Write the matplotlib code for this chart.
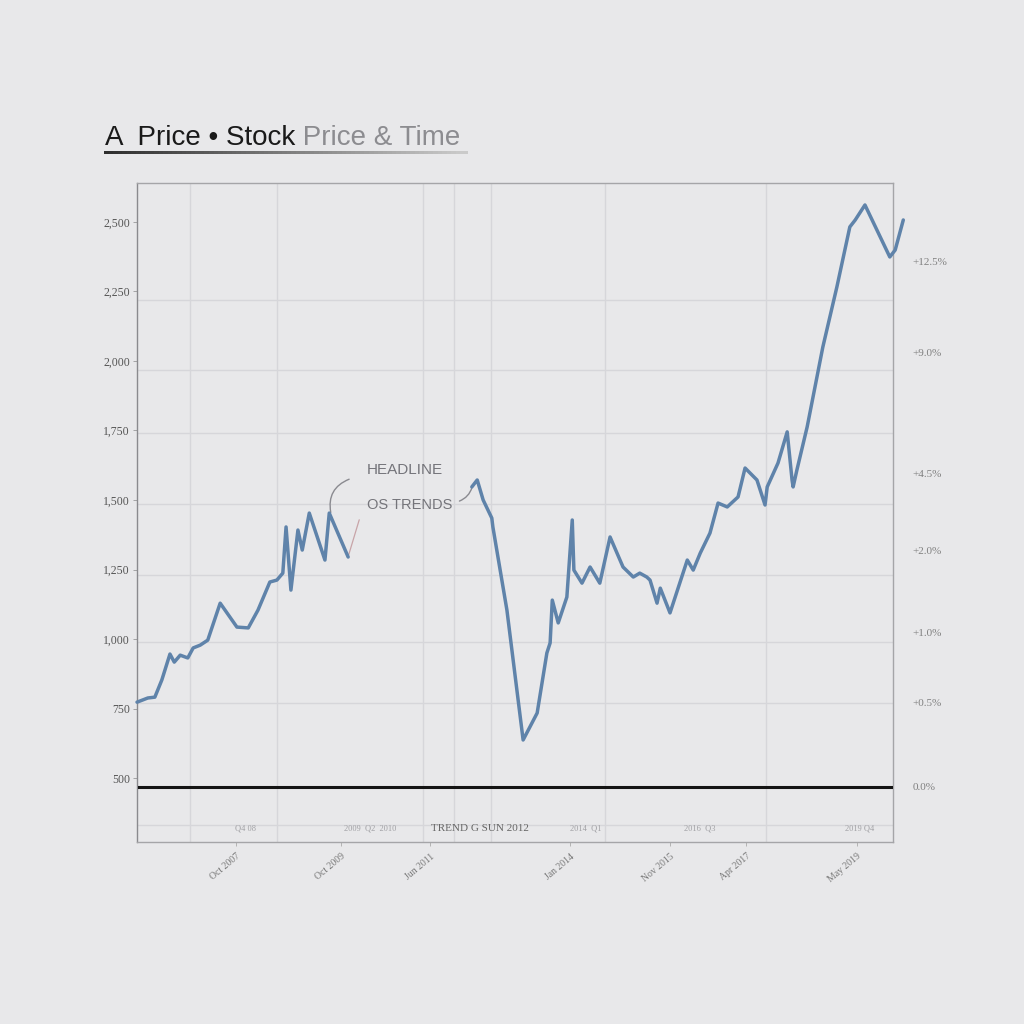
import numpy as np
import matplotlib
matplotlib.use("Agg")
import matplotlib.pyplot as plt
from matplotlib.collections import LineCollection

# ---------------- data ----------------
years = [2006.00, 2006.20, 2006.33, 2006.46, 2006.61, 2006.69, 2006.80, 2006.94,
         2007.04, 2007.17, 2007.31, 2007.54, 2007.85, 2008.06, 2008.24, 2008.46,
         2008.59, 2008.70, 2008.76, 2008.85, 2008.98, 2009.06, 2009.19, 2009.48,
         2009.56, 2009.91,
         2011.00,
         2012.20, 2012.30, 2012.41, 2012.57, 2012.59, 2012.85, 2013.15, 2013.41,
         2013.59, 2013.65, 2013.69, 2013.80, 2013.96, 2014.06, 2014.09, 2014.24,
         2014.39, 2014.57, 2014.76, 2015.00, 2015.19, 2015.31, 2015.44, 2015.50,
         2015.63, 2015.69, 2015.87, 2016.19, 2016.30, 2016.43, 2016.61, 2016.76,
         2016.93, 2017.13, 2017.26, 2017.48, 2017.63, 2017.67, 2017.87, 2018.04,
         2018.13, 2018.15, 2018.22, 2018.41, 2018.70, 2018.96, 2019.20, 2019.30,
         2019.48, 2019.94, 2020.04, 2020.19]
prices = [773, 788, 791, 853, 946, 917, 942, 932,
          968, 978, 996, 1129, 1043, 1040, 1104, 1205,
          1212, 1237, 1403, 1176, 1392, 1320, 1453, 1284,
          1453, 1295,
          np.nan,
          1547, 1572, 1500, 1435, 1403, 1104, 637, 734,
          950, 986, 1140, 1058, 1151, 1428, 1248, 1201,
          1259, 1201, 1367, 1259, 1223, 1237, 1223, 1212,
          1129, 1183, 1094, 1284, 1248, 1309, 1381, 1489,
          1475, 1511, 1615, 1572, 1482, 1547, 1633, 1745,
          1572, 1547, 1608, 1763, 2050, 2266, 2482, 2507,
          2561, 2374, 2399, 2507]

left_ticks = [500, 750, 1000, 1250, 1500, 1750, 2000, 2250, 2500]
left_labels = ["500", "750", "1,000", "1,250", "1,500", "1,750", "2,000", "2,250", "2,500"]
right_ticks = [2356, 2032, 1597, 1317, 1025, 770, 468]
right_labels = ["+12.5%", "+9.0%", "+4.5%", "+2.0%", "+1.0%", "+0.5%", "0.0%"]
x_ticks = [2007.83, 2009.78, 2011.43, 2014.02, 2015.87, 2017.28, 2019.33]
x_labels = ["Oct 2007", "Oct 2009", "Jun 2011", "Jan 2014", "Nov 2015", "Apr 2017", "May 2019"]
baseline_value = 468
band_labels = ["Q4 08", "2009  Q2  2010", "TREND G SUN 2012", "2014  Q1", "2016  Q3", "2019 Q4"]

# ---------------- styling ----------------
BG = "#e8e8ea"
LINE = "#5f83aa"

fig = plt.figure(figsize=(10.24, 10.24), dpi=100, facecolor=BG)
ax = fig.add_axes([0.1338, 0.1777, 0.7383, 0.6436], facecolor=BG)

ax.set_xlim(2006, 2020)
ax.set_ylim(270, 2640)

# grid lines (minor ticks carry the grid)
ax.set_xticks([2006.98, 2008.59, 2011.30, 2011.87, 2012.56, 2014.67, 2017.65], minor=True)
ax.set_yticks([331, 770, 989, 1230, 1486, 1741, 1968, 2219], minor=True)
ax.grid(True, which="minor", color="#d6d6da", lw=1.0)
ax.grid(False, which="major")
ax.tick_params(which="minor", length=0)

ax.plot(years, prices, color=LINE, lw=2.5, solid_joinstyle="round",
        solid_capstyle="round", clip_on=False, zorder=4)
ax.axhline(baseline_value, color="#141414", lw=2.2, xmin=0.002, xmax=0.997, zorder=3)

for s in ax.spines.values():
    s.set_color("#a5a5a8")
    s.set_linewidth(1.0)
ax.spines["left"].set_color("#8a8a8e")

ax.set_yticks(left_ticks)
ax.set_yticklabels(left_labels, family="Liberation Serif", fontsize=8.5, color="#555555")
ax.tick_params(axis="y", which="major", length=3, width=0.6, color="#999999", pad=2)

ax.set_xticks(x_ticks)
ax.set_xticklabels(x_labels, family="Liberation Serif", fontsize=7, color="#777777",
                   rotation=40, ha="right", rotation_mode="anchor")
ax.tick_params(axis="x", which="major", length=3, width=0.6, color="#aaaaaa", pad=4)

axr = ax.twinx()
axr.set_ylim(ax.get_ylim())
axr.set_yticks(right_ticks)
axr.set_yticklabels(right_labels, family="Liberation Serif", fontsize=8, color="#808080")
axr.tick_params(axis="y", length=0, pad=14)
for s in axr.spines.values():
    s.set_visible(False)

# small band labels inside the bottom strip
band_x = [0.143, 0.308, 0.454, 0.593, 0.745, 0.956]
for bx, lab in zip(band_x, band_labels):
    big = "SUN" in lab
    ax.text(bx, 0.014, lab, transform=ax.transAxes, ha="center", va="bottom",
            family="Liberation Serif", fontsize=8 if big else 6,
            color="#666666" if big else "#a0a0a4")

# annotation
ax.text(0.354, 0.565, "HEADLINE", transform=ax.transAxes, ha="center", va="center",
        family="Liberation Sans", fontsize=11, color="#74747a")
ax.text(0.361, 0.511, "OS TRENDS", transform=ax.transAxes, ha="center", va="center",
        family="Liberation Sans", fontsize=10.5, color="#74747a")
ax.annotate("", xy=(0.257, 0.496), xytext=(0.284, 0.552), xycoords="axes fraction",
            textcoords="axes fraction",
            arrowprops=dict(arrowstyle="-", color="#8a8a90", lw=1.0,
                            connectionstyle="arc3,rad=0.45"))
ax.annotate("", xy=(0.279, 0.432), xytext=(0.295, 0.493), xycoords="axes fraction",
            textcoords="axes fraction",
            arrowprops=dict(arrowstyle="-", color="#c8a4a8", lw=0.9))
ax.annotate("", xy=(0.444, 0.542), xytext=(0.423, 0.516), xycoords="axes fraction",
            textcoords="axes fraction",
            arrowprops=dict(arrowstyle="-", color="#8a8a90", lw=1.0,
                            connectionstyle="arc3,rad=0.3"))

# title
t1 = fig.text(0.1025, 0.858, "A  Price \u2022 Stock", family="Liberation Sans",
              fontsize=20, color="#1a1a1a", ha="left", va="baseline")
ax.annotate(" Price & Time", xy=(1, 0), xycoords=t1, ha="left", va="bottom",
            family="Liberation Sans", fontsize=20, color="#8c8c90",
            annotation_clip=False)

# gradient underline
xs = np.linspace(0.1025, 0.455, 80)
segs = [[(xs[i], 0.8515), (xs[i + 1], 0.8515)] for i in range(len(xs) - 1)]
cols = [(0.18 + 0.62 * i / len(segs),) * 3 for i in range(len(segs))]
lc = LineCollection(segs, colors=cols, linewidths=1.8, transform=fig.transFigure,
                    capstyle="projecting", antialiased=False)
fig.add_artist(lc)

fig.savefig("out.png", dpi=100, facecolor=BG)
